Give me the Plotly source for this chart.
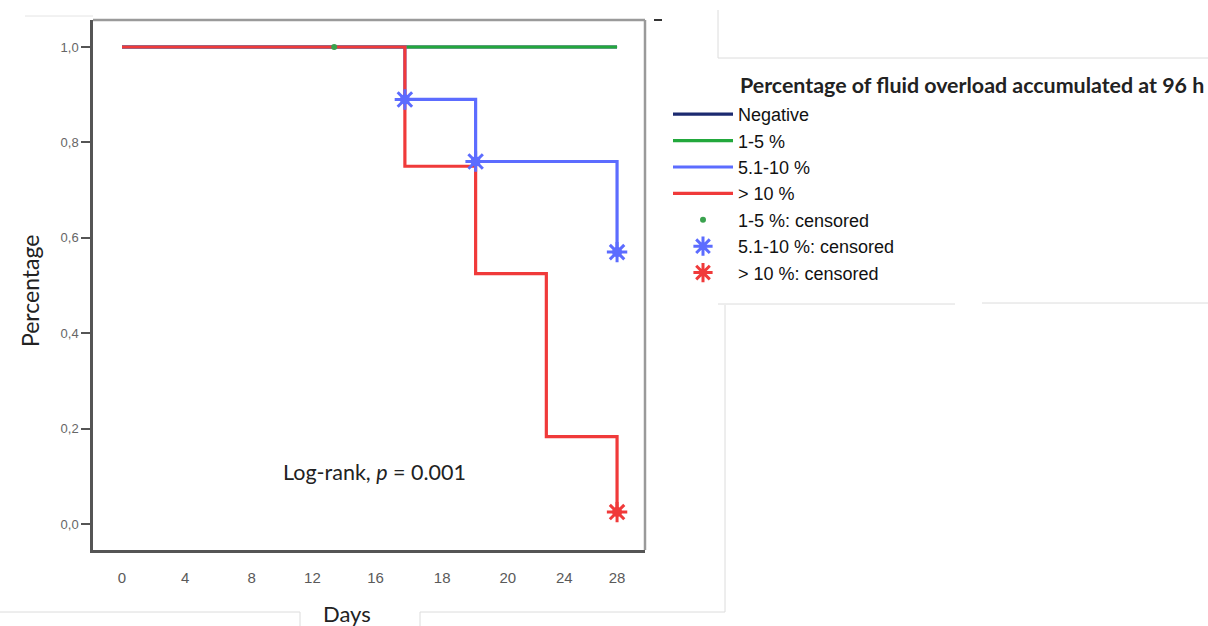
import plotly.graph_objects as go

# ---------------- data ----------------
x_tick_labels = ["0", "4", "8", "12", "16", "18", "20", "24", "28"]

neg_days = [0, 28]
neg_surv = [1.0, 1.0]

g15_days = [0, 28]
g15_surv = [1.0, 1.0]
g15_cens_days = [12]
g15_cens_surv = [1.0]

g510_days = [0, 16, 20, 28]
g510_surv = [1.0, 0.89, 0.76, 0.57]
g510_cens_days = [16, 20, 28]
g510_cens_surv = [0.89, 0.76, 0.57]

g10_days = [0, 16, 20, 24, 28]
g10_surv = [1.0, 0.75, 0.525, 0.183, 0.025]
g10_cens_days = [28]
g10_cens_surv = [0.025]

# ---------------- layout helpers ----------------
W, H = 1208, 626
L, R, T, B = 93, 645, 20, 550
TICK_POS = [0, 3.57, 7.34, 10.77, 14.34, 18.11, 21.82, 25.02, 28]

def px(x):
    return (x - L) / (R - L)

def py(y):
    return (B - y) / (B - T)

NAVY = "#1c2a70"
GREEN = "#22a83c"
BLUE = "#5c6cff"
RED = "#f03a3a"

fig = go.Figure()

def step(days, surv, color, name):
    fig.add_trace(go.Scatter(x=days, y=surv, mode="lines", name=name,
                             line=dict(color=color, width=3.2, shape="hv")))

step(neg_days, neg_surv, NAVY, "Negative")
step(g15_days, g15_surv, GREEN, "1-5 %")
step(g510_days, g510_surv, BLUE, "5.1-10 %")
step(g10_days, g10_surv, RED, "> 10 %")

fig.add_trace(go.Scatter(x=g15_cens_days, y=g15_cens_surv, mode="markers",
                         name="1-5 %: censored",
                         marker=dict(symbol="circle", size=6, color="#3aa24e")))

def stars(days, surv, color, name):
    fig.add_trace(go.Scatter(x=days, y=surv, mode="markers", name=name,
                             marker=dict(symbol="asterisk-open", size=17, color=color,
                                         line=dict(width=3, color=color))))
    fig.add_trace(go.Scatter(x=days, y=surv, mode="markers", showlegend=False,
                             hoverinfo="skip",
                             marker=dict(symbol="circle", size=10, color=color,
                                         line=dict(width=0))))

stars(g510_cens_days, g510_cens_surv, BLUE, "5.1-10 %: censored")
stars(g10_cens_days, g10_cens_surv, RED, "> 10 %: censored")

# decorative frame lines of the composite figure
def seg(x0, y0, x1, y1, color="#dcdcdc", w=1):
    fig.add_shape(type="line", xref="paper", yref="paper",
                  x0=px(x0), y0=py(y0), x1=px(x1), y1=py(y1),
                  line=dict(color=color, width=w), layer="above")

seg(L, T, R, T, "#9a9a9a", 2.5)
seg(R, T, R, B, "#9a9a9a", 2.5)
seg(718, 10, 718, 58)
seg(718, 58, 1208, 58)
seg(718, 304, 955, 304)
seg(982, 303, 1208, 303)
seg(725, 305, 725, 612)
seg(0, 612, 300, 612)
seg(300, 612, 300, 626)
seg(420, 612, 725, 612)
seg(420, 612, 420, 626)
seg(25, 16, L, 16, "#e4e4e4", 1)
seg(654, 20, 662, 20, "#333333", 2)

def note(x, y, text, size, anchor="left", angle=0, family="Lato"):
    fig.add_annotation(xref="paper", yref="paper", x=px(x), y=py(y),
                       xanchor=anchor, yanchor="middle", showarrow=False,
                       text=text, textangle=angle,
                       font=dict(family=family, size=size, color="#222222"))

note(738, 85, "<b>Percentage of fluid overload accumulated at 96 h</b>", 21.4)
note(281, 472, "Log-rank, <i>p</i> = 0.001", 21.5)
note(347, 613, "Days", 22, anchor="center")
note(30, 291, "Percentage", 23, anchor="center", angle=-90)

fig.update_layout(
    width=W, height=H,
    margin=dict(l=L, r=W - R, t=T, b=H - B, pad=0),
    paper_bgcolor="white", plot_bgcolor="white",
    separators=",.",
    showlegend=True,
    legend=dict(x=px(668), y=py(96), xanchor="left", yanchor="top",
                font=dict(family="Liberation Sans", size=18, color="#111111"),
                bgcolor="rgba(0,0,0,0)", itemwidth=60, tracegroupgap=0),
    xaxis=dict(range=[-1.64, 29.58], tickmode="array", tickvals=TICK_POS,
               ticktext=x_tick_labels, showgrid=False, zeroline=False,
               showline=True, linecolor="#555555", linewidth=2.5,
               ticks="", ticklabelstandoff=12,
               tickfont=dict(family="Liberation Sans", size=15, color="#5a5a5a")),
    yaxis=dict(range=[-0.0545, 1.0566], tickmode="array",
               tickvals=[0, 0.2, 0.4, 0.6, 0.8, 1.0], tickformat=".1f",
               showgrid=False, zeroline=False, showline=True,
               linecolor="#555555", linewidth=2.5, ticks="outside", ticklen=9,
               tickcolor="#555555", tickwidth=2,
               tickfont=dict(family="Liberation Sans", size=13, color="#666666")),
)

fig.write_html("out.html", config={"displayModeBar": False},
               post_script="document.body.style.margin='0px';")
